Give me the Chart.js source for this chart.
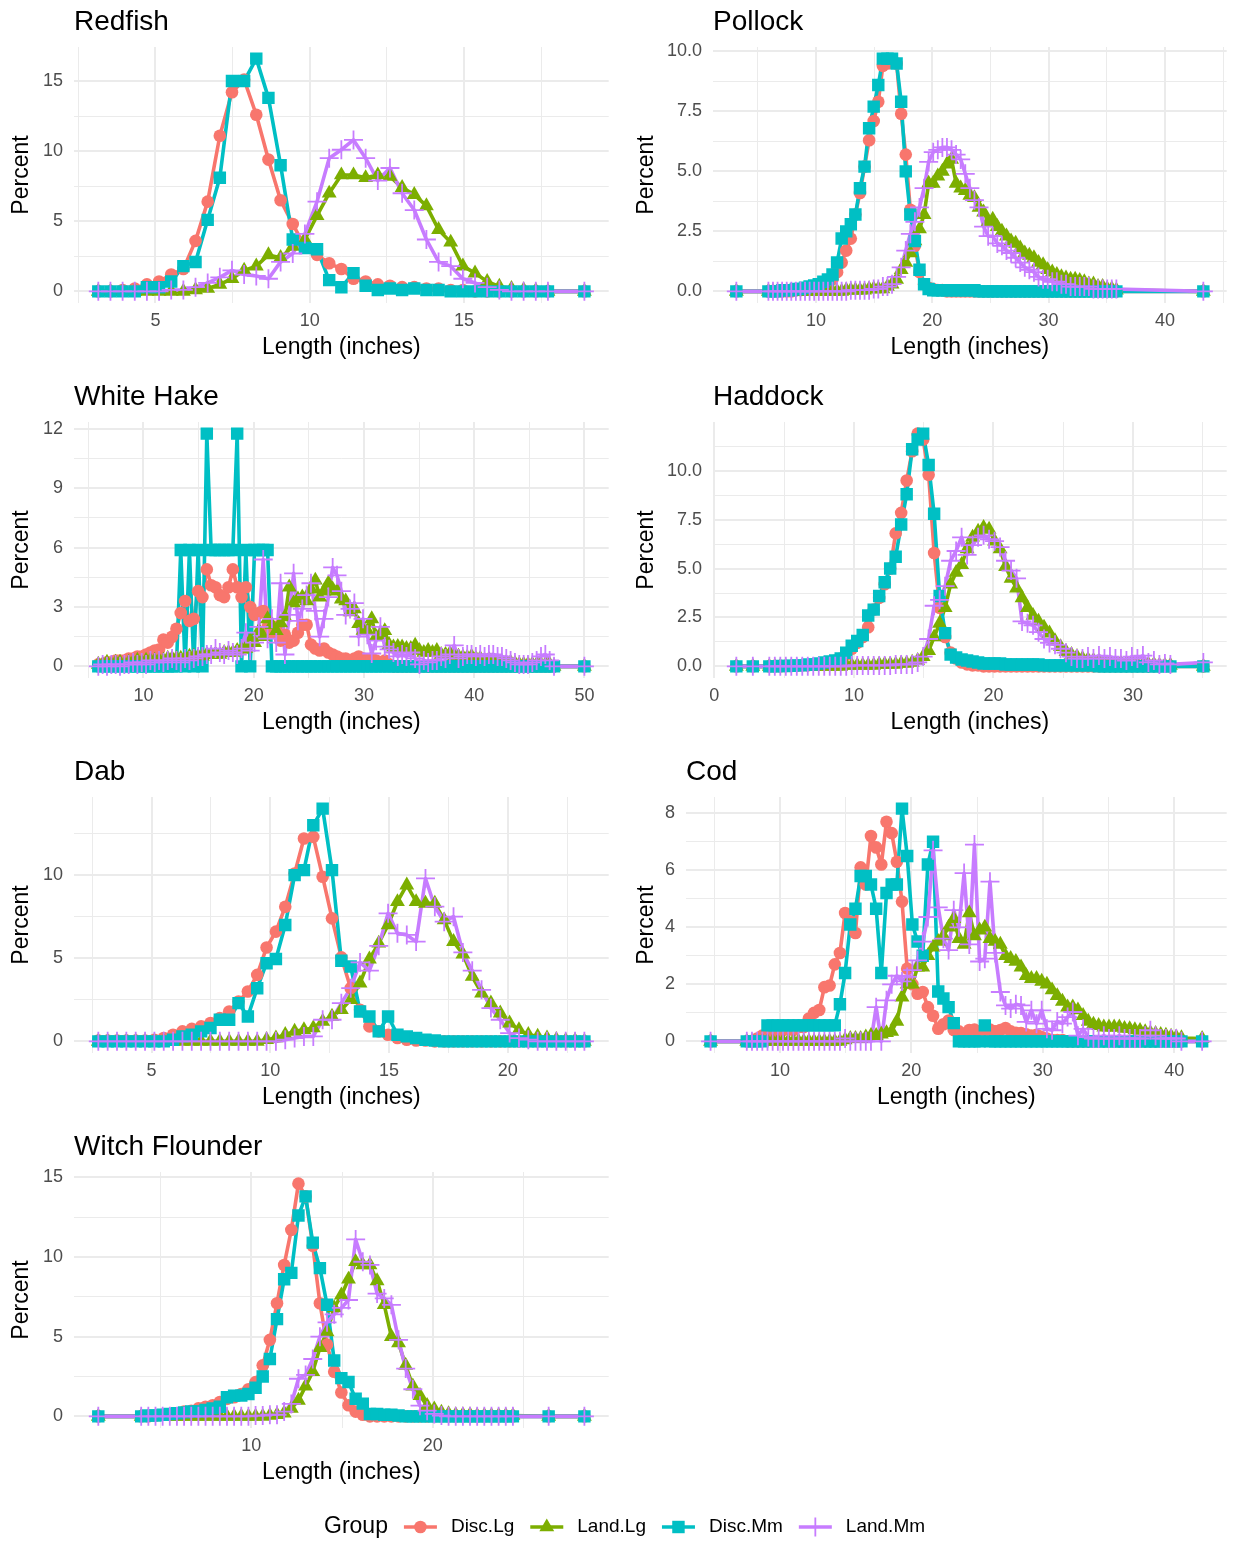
<!DOCTYPE html>
<html>
<head>
<meta charset="utf-8">
<title>Length frequency by group</title>
<script src="https://cdn.jsdelivr.net/npm/chart.js@4.4.1/dist/chart.umd.min.js"></script>
<style>
  body { margin: 0; background: #fff; width: 1238px; height: 1543px; position: relative; overflow: hidden; }
  canvas { position: absolute; }
</style>
</head>
<body>
<canvas id="redfish" width="620" height="365" style="left:0;top:0"></canvas>
<canvas id="pollock" width="613" height="365" style="left:625px;top:0"></canvas>
<canvas id="whitehake" width="620" height="365" style="left:0;top:375px"></canvas>
<canvas id="haddock" width="613" height="365" style="left:625px;top:375px"></canvas>
<canvas id="dab" width="620" height="365" style="left:0;top:750px"></canvas>
<canvas id="cod" width="613" height="365" style="left:625px;top:750px"></canvas>
<canvas id="witch" width="620" height="365" style="left:0;top:1125px"></canvas>
<canvas id="legend" width="1238" height="60" style="left:0;top:1497px"></canvas>
<script>
// length classes are whole centimetres, plotted in inches
function cmRun(from, to) {
	var out = [];
	for (var i = from; i <= to; i++) out.push(i);
	return out;
}

var groupNames = ['Disc.Lg', 'Land.Lg', 'Disc.Mm', 'Land.Mm'];
var groupColors = ['#F8766D', '#7CAE00', '#00BFC4', '#C77CFF'];
var groupShapes = ['circle', 'triangle', 'rect', 'cross'];
var groupSizes = [6.3, 8.6, 8.8, 9.5];

// Redfish
var redfishCm = cmRun(8, 45).concat([48]);
var redfishDiscLg = [0, 0, 0.1, 0.2, 0.5, 0.7, 1.2, 1.6, 3.6, 6.4,
	11.1, 14.2, 15.1, 12.6, 9.4, 6.5, 4.8, 3.2, 2.6, 2.0,
	1.6, 0.9, 0.7, 0.5, 0.4, 0.3, 0.3, 0.2, 0.2, 0.1,
	0.1, 0, 0, 0, 0, 0, 0, 0,
	0];
var redfishLandLg = [0, 0, 0, 0, 0, 0, 0, 0, 0.1, 0.2,
	0.5, 0.9, 1.5, 1.8, 2.6, 2.4, 3.2, 3.7, 5.4, 7.0,
	8.3, 8.3, 8.1, 8.3, 8.2, 7.4, 6.9, 6.1, 4.4, 3.5,
	1.8, 1.3, 0.7, 0.35, 0.2, 0.1, 0.05, 0,
	0];
var redfishDiscMm = [0, 0, 0, 0, 0.3, 0.3, 0.7, 1.8, 2.1, 5.1,
	8.1, 15.0, 15.0, 16.6, 13.8, 9.0, 3.7, 3.1, 3.0, 0.8,
	0.3, 1.3, 0.4, 0.1, 0.2, 0.1, 0.2, 0.1, 0.1, 0,
	0, 0, 0, 0, 0, 0, 0, 0,
	0];
var redfishLandMm = [0, 0, 0, 0, 0, 0, 0.1, 0.1, 0.3, 0.6,
	1.0, 1.5, 1.2, 1.1, 0.9, 2.1, 2.7, 4.1, 6.4, 9.5,
	10.1, 10.8, 9.5, 7.9, 8.8, 7.0, 5.8, 3.7, 2.1, 1.8,
	0.9, 0.6, 0.3, 0.1, 0, 0, 0, 0,
	0];

// Pollock
var pollockCm = [8].concat(cmRun(15, 91), [110]);
var pollockDiscLg = [0,
	0, 0, 0, 0, 0, 0, 0.05, 0.05, 0.1, 0.15,
	0.2, 0.25, 0.3, 0.3, 0.5, 0.8, 1.2, 1.7, 2.2, 3.2,
	4.1, 5.2, 6.3, 7.1, 7.9, 9.4, 9.5, 9.6, 9.5, 7.4,
	5.7, 3.4, 1.9, 0.8, 0.3, 0.15, 0.1, 0.05, 0.05, 0,
	0, 0, 0, 0, 0, 0, 0, 0, 0, 0,
	0, 0, 0, 0, 0, 0, 0, 0, 0, 0,
	0, 0, 0, 0, 0, 0, 0, 0, 0, 0,
	0, 0, 0, 0, 0, 0, 0,
	0];
var pollockLandLg = [0,
	0, 0, 0, 0, 0, 0, 0, 0, 0, 0,
	0, 0, 0, 0, 0, 0, 0, 0.05, 0.05, 0.05,
	0.05, 0.05, 0.1, 0.1, 0.1, 0.1, 0.2, 0.3, 0.5, 0.9,
	1.2, 1.6, 2.1, 2.6, 3.2, 4.5, 4.5, 4.8, 5.0, 5.3,
	5.5, 4.5, 4.3, 4.2, 4.0, 3.9, 3.5, 3.3, 2.9, 3.0,
	2.7, 2.5, 2.3, 2.1, 2.0, 1.8, 1.6, 1.5, 1.4, 1.2,
	1.1, 0.9, 0.8, 0.7, 0.6, 0.55, 0.5, 0.5, 0.45, 0.4,
	0.3, 0.3, 0.2, 0.2, 0.1, 0.1, 0.05,
	0];
var pollockDiscMm = [0,
	0, 0, 0, 0.05, 0.05, 0.05, 0.1, 0.1, 0.15, 0.2,
	0.25, 0.3, 0.4, 0.5, 0.7, 1.2, 2.2, 2.5, 2.8, 3.2,
	4.3, 5.2, 6.8, 7.7, 8.6, 9.7, 9.7, 9.7, 9.5, 7.9,
	5.0, 3.2, 2.1, 0.9, 0.3, 0.1, 0.05, 0.05, 0.05, 0.05,
	0.05, 0.05, 0.05, 0.05, 0.05, 0.05, 0, 0, 0, 0,
	0, 0, 0, 0, 0, 0, 0, 0, 0, 0,
	0, 0, 0, 0, 0, 0, 0, 0, 0, 0,
	0, 0, 0, 0, 0, 0, 0,
	0];
var pollockLandMm = [0,
	0, 0, 0, 0, 0, 0, 0, 0, 0, 0,
	0, 0, 0, 0, 0, 0, 0, 0, 0.05, 0.05,
	0.05, 0.05, 0.05, 0.1, 0.1, 0.2, 0.2, 0.3, 0.6, 1.0,
	1.7, 2.4, 2.9, 3.5, 4.3, 5.4, 5.8, 5.9, 6.0, 6.0,
	5.9, 5.7, 5.5, 4.9, 4.3, 3.8, 3.5, 2.7, 2.3, 2.3,
	2.0, 1.9, 1.7, 1.6, 1.4, 1.2, 1.0, 0.9, 0.8, 0.6,
	0.5, 0.5, 0.4, 0.4, 0.3, 0.3, 0.2, 0.2, 0.2, 0.2,
	0.2, 0.1, 0.1, 0.1, 0.1, 0.1, 0.1,
	0];

// White Hake
var whiteHakeCm = cmRun(15, 120).concat([127]);
var whiteHakeDiscLg = [0.1, 0.1, 0.2, 0.2, 0.3, 0.3, 0.3, 0.4, 0.4, 0.5,
	0.5, 0.6, 0.7, 0.8, 0.85, 1.35, 1.2, 1.5, 1.9, 2.7,
	3.3, 2.3, 2.4, 3.8, 3.5, 4.9, 4.1, 4.0, 3.6, 3.5,
	4.0, 4.9, 4.0, 3.5, 4.0, 3.0, 2.6, 2.7, 2.8, 2.0,
	1.7, 2.0, 1.3, 1.6, 1.2, 1.3, 1.7, 2.1, 2.1, 1.1,
	0.9, 0.8, 0.9, 0.7, 0.6, 0.5, 0.4, 0.4, 0.3, 0.4,
	0.5, 0.4, 0.3, 0.4, 0.3, 0.2, 0.3, 0.1, 0, 0,
	0, 0, 0, 0, 0, 0, 0, 0, 0, 0,
	0, 0, 0, 0, 0, 0, 0, 0, 0, 0,
	0, 0, 0, 0, 0, 0, 0, 0, 0, 0,
	0, 0, 0, 0, 0, 0,
	0];
var whiteHakeLandLg = [0.1, 0.1, 0.2, 0.1, 0.2, 0.2, 0.1, 0.2, 0.2, 0.3,
	0.2, 0.3, 0.3, 0.3, 0.3, 0.3, 0.4, 0.4, 0.4, 0.4,
	0.4, 0.5, 0.5, 0.5, 0.5, 0.6, 0.6, 0.6, 0.6, 0.7,
	0.7, 0.7, 0.8, 0.85, 0.9, 1.3, 1.2, 1.8, 1.5, 2.4,
	2.1, 1.8, 2.2, 2.5, 4.0, 3.2, 3.4, 3.5, 3.3, 3.9,
	4.35, 3.5, 3.8, 4.2, 3.9, 3.8, 3.4, 3.3, 2.75, 2.9,
	2.16, 1.82, 1.8, 2.4, 1.5, 1.6, 1.8, 1.1, 0.97, 1.0,
	0.97, 0.9, 0.9, 1.06, 0.8, 0.7, 0.8, 0.7, 0.8, 0.6,
	0.6, 0.64, 0.5, 0.5, 0.47, 0.45, 0.5, 0.4, 0.4, 0.3,
	0.35, 0.3, 0.25, 0.2, 0.2, 0.2, 0.15, 0.1, 0.1, 0.1,
	0.1, 0.1, 0.1, 0.1, 0.1, 0,
	0];
var whiteHakeDiscMm = [0, 0, 0, 0, 0, 0, 0, 0, 0, 0,
	0, 0, 0, 0, 0, 0, 0, 0, 0, 5.88,
	0, 5.88, 0, 5.88, 0, 11.76, 5.88, 5.88, 5.88, 5.88,
	5.88, 5.88, 11.76, 0, 5.88, 0, 5.88, 5.88, 5.88, 5.88,
	0, 0, 0, 0, 0, 0, 0, 0, 0, 0,
	0, 0, 0, 0, 0, 0, 0, 0, 0, 0,
	0, 0, 0, 0, 0, 0, 0, 0, 0, 0,
	0, 0, 0, 0, 0, 0, 0, 0, 0, 0,
	0, 0, 0, 0, 0, 0, 0, 0, 0, 0,
	0, 0, 0, 0, 0, 0, 0, 0, 0, 0,
	0, 0, 0, 0, 0, 0,
	0];
var whiteHakeLandMm = [0, 0.1, 0, 0.1, 0.1, 0, 0.1, 0.1, 0.2, 0.1,
	0.2, 0.1, 0.3, 0.2, 0.3, 0.2, 0.3, 0.4, 0.3, 0.2,
	0.4, 0.3, 0.4, 0.5, 0.5, 0.6, 0.6, 0.9, 0.7, 0.6,
	0.8, 0.7, 0.6, 0.9, 1.7, 0.8, 1.2, 2.0, 5.4, 1.4,
	2.4, 1.2, 4.2, 0.6, 2.6, 4.7, 2.3, 2.9, 3.6, 4.2,
	2.8, 1.5, 2.4, 3.5, 5.0, 4.6, 3.8, 2.6, 2.9, 3.2,
	1.5, 2.4, 1.6, 0.65, 1.3, 2.0, 1.0, 0.86, 0.7, 0.5,
	0.6, 0.5, 0.7, 0.4, 0.1, 0.3, 0.2, 0.3, 0.3, 0.5,
	0.4, 0.6, 1.06, 0.4, 0.5, 0.6, 0.6, 0.5, 0.6, 0.5,
	0.6, 0.6, 0.5, 0.5, 0.4, 0.3, 0.2, 0.1, 0.1, 0.1,
	0.2, 0.3, 0.5, 0.6, 0.3, 0,
	0];

// Haddock
var haddockCm = [4, 7].concat(cmRun(10, 83), [89]);
var haddockDiscLg = [0, 0,
	0, 0, 0, 0.02, 0.02, 0.03, 0.05, 0.05, 0.1, 0.1,
	0.15, 0.2, 0.3, 0.4, 0.6, 0.9, 1.2, 1.5, 2.0, 2.9,
	3.5, 4.2, 5.0, 6.8, 7.85, 9.5, 11.0, 11.9, 11.6, 9.8,
	5.8, 3.0, 1.5, 0.7, 0.4, 0.2, 0.1, 0.05, 0.05, 0,
	0, 0, 0, 0, 0, 0, 0, 0, 0, 0,
	0, 0, 0, 0, 0, 0, 0, 0, 0, 0,
	0, 0, 0, 0, 0, 0, 0, 0, 0, 0,
	0, 0, 0, 0,
	0];
var haddockLandLg = [0, 0,
	0, 0, 0, 0, 0, 0, 0, 0, 0, 0,
	0, 0, 0, 0, 0.05, 0.05, 0.05, 0.05, 0.05, 0.05,
	0.1, 0.1, 0.1, 0.1, 0.15, 0.15, 0.2, 0.3, 0.5, 0.8,
	1.5, 2.2, 3.0, 4.2, 4.8, 5.2, 6.0, 6.6, 6.9, 7.1,
	7.0, 6.4, 6.0, 5.1, 4.5, 4.0, 3.5, 3.0, 2.6, 2.3,
	2.0, 1.7, 1.3, 1.0, 0.75, 0.6, 0.5, 0.4, 0.35, 0.3,
	0.25, 0.2, 0.2, 0.15, 0.15, 0.15, 0.15, 0.1, 0.1, 0.1,
	0.1, 0.05, 0.05, 0.05,
	0];
var haddockDiscMm = [0, 0,
	0, 0, 0.02, 0.02, 0.03, 0.05, 0.05, 0.1, 0.1, 0.15,
	0.2, 0.25, 0.3, 0.4, 0.7, 1.05, 1.3, 1.6, 2.6, 2.9,
	3.6, 4.3, 5.0, 5.6, 7.25, 8.8, 11.1, 11.6, 11.9, 10.3,
	7.8, 3.6, 1.7, 0.6, 0.45, 0.35, 0.3, 0.25, 0.2, 0.15,
	0.15, 0.15, 0.15, 0.1, 0.1, 0.1, 0.1, 0.1, 0.1, 0.1,
	0.05, 0.05, 0.05, 0.05, 0.05, 0.05, 0.05, 0.05, 0.05, 0.05,
	0, 0, 0, 0, 0, 0, 0, 0, 0, 0,
	0, 0, 0, 0,
	0];
var haddockLandMm = [0, 0,
	0, 0, 0, 0, 0, 0, 0, 0, 0, 0,
	0, 0, 0, 0, 0, 0.05, 0.05, 0.05, 0.05, 0.05,
	0.05, 0.05, 0.05, 0.1, 0.1, 0.1, 0.1, 0.2, 0.5, 1.4,
	3.1, 3.4, 4.1, 5.4, 5.9, 6.6, 5.7, 6.2, 6.6, 6.7,
	6.5, 6.4, 6.1, 5.4, 4.9, 4.5, 2.3, 2.2, 2.1, 1.75,
	1.4, 1.2, 1.1, 0.9, 0.7, 0.5, 0.4, 0.4, 0.5, 0.4,
	0.55, 0.4, 0.5, 0.4, 0.4, 0.3, 0.5, 0.4, 0.55, 0.2,
	0.3, 0.1, 0.15, 0.1,
	0.2];

// Dab
var dabCm = cmRun(7, 59);
var dabDiscLg = [0.05, 0.05, 0.05, 0.05, 0.05, 0.05, 0.1, 0.2, 0.4, 0.6,
	0.75, 0.9, 1.1, 1.4, 1.8, 2.4, 3.0, 4.0, 5.65, 6.6,
	8.1, 10.1, 12.2, 12.3, 9.9, 7.4, 5.05, 3.2, 1.9, 0.9,
	0.6, 0.4, 0.2, 0.1, 0.05, 0.05, 0, 0, 0, 0,
	0, 0, 0, 0, 0, 0, 0, 0, 0, 0,
	0, 0, 0];
var dabLandLg = [0, 0, 0, 0, 0, 0, 0, 0, 0, 0,
	0, 0, 0, 0, 0, 0, 0, 0, 0.1, 0.2,
	0.4, 0.6, 0.7, 0.8, 1.2, 1.5, 1.9, 2.5, 3.5, 4.95,
	5.9, 7.0, 8.4, 9.4, 8.4, 8.3, 8.3, 7.3, 6.0, 5.25,
	3.9, 2.9, 2.3, 1.7, 1.1, 0.7, 0.4, 0.3, 0.2, 0.1,
	0.05, 0.05, 0];
var dabDiscMm = [0, 0, 0, 0, 0, 0, 0, 0, 0.1, 0.3,
	0.4, 0.6, 0.8, 1.3, 1.3, 2.3, 1.5, 3.2, 4.7, 4.95,
	7.0, 10.0, 10.3, 13.0, 14.0, 10.3, 4.85, 4.5, 1.8, 1.5,
	0.6, 1.5, 0.4, 0.3, 0.2, 0.1, 0.05, 0, 0, 0,
	0, 0, 0, 0, 0, 0, 0, 0, 0, 0,
	0, 0, 0];
var dabLandMm = [0, 0, 0, 0, 0, 0, 0, 0, 0, 0,
	0, 0, 0, 0, 0, 0, 0, 0, 0, 0,
	0.1, 0.2, 0.3, 0.3, 1.3, 1.3, 2.3, 3.2, 4.75, 4.25,
	5.75, 7.7, 6.5, 6.4, 6.0, 9.8, 8.1, 7.2, 7.5, 5.35,
	4.25, 3.1, 2.0, 1.3, 0.5, 0.2, 0.1, 0, 0, 0,
	0, 0, 0];

// Cod
var codCm = [12].concat(cmRun(19, 103), [107]);
var codDiscLg = [0,
	0, 0, 0.1, 0.2, 0.3, 0.35, 0.3, 0.4, 0.45, 0.4,
	0.5, 0.5, 0.8, 1.0, 1.1, 1.9, 1.96, 2.7, 3.1, 4.5,
	4.2, 3.8, 6.1, 5.5, 7.2, 6.8, 6.2, 7.7, 7.3, 6.3,
	4.9, 2.55, 2.0, 1.67, 1.73, 1.2, 0.9, 0.44, 0.6, 0.73,
	0.4, 0.35, 0.26, 0.4, 0.41, 0.35, 0.3, 0.41, 0.35, 0.4,
	0.47, 0.35, 0.3, 0.29, 0.25, 0.2, 0.23, 0.15, 0.1, 0.05,
	0.05, 0.05, 0, 0, 0, 0, 0, 0, 0, 0,
	0, 0, 0, 0, 0, 0, 0, 0, 0, 0,
	0, 0, 0, 0, 0,
	0];
var codLandLg = [0,
	0, 0, 0, 0, 0, 0, 0, 0, 0, 0,
	0, 0, 0, 0, 0, 0, 0, 0, 0, 0.05,
	0.1, 0.1, 0.1, 0.15, 0.2, 0.2, 0.25, 0.3, 0.35, 0.7,
	1.55, 2.0, 2.0, 2.6, 2.6, 3.0, 3.3, 3.5, 3.7, 4.0,
	4.3, 3.6, 3.4, 4.5, 3.7, 3.9, 4.0, 3.6, 3.5, 3.4,
	3.0, 2.9, 2.8, 2.6, 2.3, 2.2, 2.2, 2.1, 2.0, 1.8,
	1.6, 1.4, 1.2, 1.2, 1.1, 0.9, 0.7, 0.6, 0.55, 0.5,
	0.5, 0.5, 0.5, 0.45, 0.44, 0.4, 0.38, 0.33, 0.3, 0.27,
	0.24, 0.21, 0.18, 0.15, 0.12,
	0.1];
var codDiscMm = [0,
	0, 0, 0, 0, 0.56, 0.56, 0.56, 0.56, 0.56, 0.56,
	0.56, 0.56, 0.56, 0.56, 0.56, 0.56, 0.56, 0.56, 1.3, 2.4,
	4.1, 4.65, 5.8, 5.8, 5.5, 4.65, 2.4, 5.2, 5.5, 5.5,
	8.16, 6.5, 4.1, 3.5, 3.0, 6.2, 7.0, 1.75, 1.5, 1.2,
	0.64, 0, 0, 0, 0, 0, 0.56, 0, 0, 0,
	0, 0, 0, 0, 0, 0, 0, 0, 0, 0,
	0, 0, 0, 0, 0, 0, 0, 0, 0, 0,
	0, 0, 0, 0, 0, 0, 0, 0, 0, 0,
	0, 0, 0, 0, 0,
	0];
var codLandMm = [0,
	0, 0, 0, 0, 0, 0, 0, 0, 0, 0,
	0, 0, 0, 0, 0, 0, 0, 0, 0, 0.1,
	0, 0, 0, 0, 0, 1.2, 0, 1.44, 2.0, 2.3,
	2.1, 2.26, 2.5, 2.84, 3.5, 4.36, 6.7, 4.7, 3.6, 3.2,
	4.6, 4.0, 5.9, 3.4, 6.9, 2.8, 2.9, 5.6, 3.1, 1.73,
	1.26, 1.15, 1.3, 1.26, 0.68, 1.09, 0.62, 1.09, 0.44, 0.39,
	0.7, 0.62, 0.85, 1.03, 0.2, 0.44, 0.15, 0.1, 0.1, 0.2,
	0.1, 0.1, 0.2, 0.1, 0.1, 0.1, 0.1, 0.2, 0.39, 0.2,
	0.1, 0.1, 0.1, 0.1, 0,
	0];

// Witch Flounder
var witchCm = [4].concat(cmRun(10, 62), [67, 72]);
var witchDiscLg = [0,
	0, 0, 0.05, 0.1, 0.15, 0.2, 0.3, 0.35, 0.5, 0.6,
	0.7, 0.9, 1.1, 1.2, 1.4, 1.7, 2.15, 3.2, 4.8, 7.1,
	9.5, 11.7, 14.6, 13.8, 10.7, 7.1, 4.5, 2.8, 1.5, 0.7,
	0.3, 0.1, 0, 0, 0, 0, 0, 0, 0, 0,
	0, 0, 0, 0, 0, 0, 0, 0, 0, 0,
	0, 0, 0,
	0, 0];
var witchLandLg = [0,
	0, 0, 0, 0, 0, 0, 0, 0, 0, 0,
	0, 0, 0, 0, 0, 0, 0, 0, 0.05, 0.1,
	0.2, 0.5, 1.0, 1.9, 2.8, 4.3, 5.3, 6.8, 7.6, 8.6,
	9.7, 9.5, 9.5, 8.5, 7.0, 5.0, 4.6, 3.2, 1.9, 1.3,
	0.67, 0.46, 0.25, 0.15, 0.1, 0.1, 0.1, 0.05, 0.05, 0.05,
	0.05, 0.05, 0.05,
	0, 0];
var witchDiscMm = [0,
	0, 0.05, 0.05, 0.1, 0.15, 0.2, 0.25, 0.3, 0.3, 0.4,
	0.5, 0.6, 1.2, 1.3, 1.3, 1.4, 1.8, 2.5, 3.6, 6.1,
	8.6, 9.0, 12.6, 13.8, 10.9, 9.3, 7.0, 3.5, 2.4, 2.15,
	1.1, 0.8, 0.15, 0.15, 0.1, 0.1, 0.05, 0, 0, 0,
	0, 0, 0, 0, 0, 0, 0, 0, 0, 0,
	0, 0, 0,
	0, 0];
var witchLandMm = [0,
	0, 0, 0, 0, 0, 0, 0, 0, 0, 0,
	0, 0, 0, 0, 0, 0, 0.05, 0.05, 0.1, 0.1,
	0.3, 0.78, 2.36, 2.6, 3.6, 5.0, 5.9, 6.4, 6.8, 7.3,
	11.1, 9.7, 9.5, 7.7, 7.4, 7.0, 4.8, 3.0, 1.7, 0.67,
	0.36, 0.15, 0.05, 0, 0, 0, 0, 0, 0, 0,
	0, 0, 0,
	0, 0];

// axis breaks
var redfishXTicks = [5, 10, 15];
var redfishYTicks = [0, 5, 10, 15];
var pollockXTicks = [10, 20, 30, 40];
var pollockYTicks = [0, 2.5, 5, 7.5, 10];
var whiteHakeXTicks = [10, 20, 30, 40, 50];
var whiteHakeYTicks = [0, 3, 6, 9, 12];
var haddockXTicks = [0, 10, 20, 30];
var haddockYTicks = [0, 2.5, 5, 7.5, 10];
var dabXTicks = [5, 10, 15, 20];
var dabYTicks = [0, 5, 10];
var codXTicks = [10, 20, 30, 40];
var codYTicks = [0, 2, 4, 6, 8];
var witchXTicks = [10, 20];
var witchYTicks = [0, 5, 10, 15];

var panels = [
	{canvas: 'redfish', title: 'Redfish', cm: redfishCm, values: [redfishDiscLg, redfishLandLg, redfishDiscMm, redfishLandMm], xTicks: redfishXTicks, yTicks: redfishYTicks, digits: 0, col: 0},
	{canvas: 'pollock', title: 'Pollock', cm: pollockCm, values: [pollockDiscLg, pollockLandLg, pollockDiscMm, pollockLandMm], xTicks: pollockXTicks, yTicks: pollockYTicks, digits: 1, col: 1, yWidth: 83},
	{canvas: 'whitehake', title: 'White Hake', cm: whiteHakeCm, values: [whiteHakeDiscLg, whiteHakeLandLg, whiteHakeDiscMm, whiteHakeLandMm], xTicks: whiteHakeXTicks, yTicks: whiteHakeYTicks, digits: 0, col: 0},
	{canvas: 'haddock', title: 'Haddock', cm: haddockCm, values: [haddockDiscLg, haddockLandLg, haddockDiscMm, haddockLandMm], xTicks: haddockXTicks, yTicks: haddockYTicks, digits: 1, col: 1, yWidth: 83},
	{canvas: 'dab', title: 'Dab', cm: dabCm, values: [dabDiscLg, dabLandLg, dabDiscMm, dabLandMm], xTicks: dabXTicks, yTicks: dabYTicks, digits: 0, col: 0},
	{canvas: 'cod', title: 'Cod', cm: codCm, values: [codDiscLg, codLandLg, codDiscMm, codLandMm], xTicks: codXTicks, yTicks: codYTicks, digits: 0, col: 1, yWidth: 56},
	{canvas: 'witch', title: 'Witch Flounder', cm: witchCm, values: [witchDiscLg, witchLandLg, witchDiscMm, witchLandMm], xTicks: witchXTicks, yTicks: witchYTicks, digits: 0, col: 0}
];

var FONT = '"Liberation Sans", Arial, Helvetica, sans-serif';
Chart.defaults.font.family = FONT;
var GRID = '#EBEBEB';
var LINE_W = 3.6;

// major breaks plus the half-way minor lines, kept inside the limits
function gridBreaks(breaks, lo, hi) {
	var step = breaks[1] - breaks[0];
	var ext = [breaks[0] - step].concat(breaks, [breaks[breaks.length - 1] + step]);
	var out = [];
	for (var i = 0; i < ext.length; i++) {
		out.push(ext[i]);
		if (i < ext.length - 1) out.push(ext[i] + step / 2);
	}
	return out.filter(function(v){ return v >= lo - 1e-9 && v <= hi + 1e-9; });
}

function isBreak(list, v) {
	for (var i = 0; i < list.length; i++) {
		if (Math.abs(list[i] - v) < 1e-6) return true;
	}
	return false;
}

var panelTitle = {
	id: 'panelTitle',
	afterDraw: function(chart, args, opts) {
		var ctx = chart.ctx;
		ctx.save();
		ctx.font = '28px ' + FONT;
		ctx.fillStyle = '#000';
		ctx.textBaseline = 'alphabetic';
		ctx.textAlign = 'left';
		ctx.fillText(opts.text, chart.chartArea.left, 30);
		ctx.restore();
	}
};

function buildPanel(p) {
	var xs = p.cm.map(function(c){ return c / 2.54; });
	var xMin = xs[0], xMax = xs[xs.length - 1];
	var xPad = (xMax - xMin) * 0.05;
	var yMax = 0;
	p.values.forEach(function(arr){
		if (arr.length !== xs.length) console.warn(p.title, 'length mismatch', arr.length, xs.length);
		arr.forEach(function(v){ if (v > yMax) yMax = v; });
	});
	var yLo = -yMax * 0.05, yHi = yMax * 1.05;
	var xLo = xMin - xPad, xHi = xMax + xPad;
	var xGrid = gridBreaks(p.xTicks, xLo, xHi);
	var yGrid = gridBreaks(p.yTicks, yLo, yHi);

	// all lines first, then the points on top (Land.Mm uppermost)
	var datasets = [];
	for (var g = 0; g < 4; g++) {
		var pts = xs.map(function(x, i){ return {x: x, y: p.values[g][i]}; });
		datasets.push({
			label: groupNames[g],
			data: pts,
			showLine: true,
			borderColor: groupColors[g],
			borderWidth: LINE_W,
			borderJoinStyle: 'round',
			pointRadius: 0,
			pointHoverRadius: 0,
			order: 7 - g
		});
		datasets.push({
			label: groupNames[g],
			data: pts,
			showLine: false,
			pointStyle: groupShapes[g],
			pointRadius: groupSizes[g],
			pointHoverRadius: groupSizes[g],
			pointBackgroundColor: groupColors[g],
			pointBorderColor: groupColors[g],
			pointBorderWidth: groupShapes[g] === 'cross' ? 1.8 : 0,
			order: 3 - g
		});
	}

	var yWidth = p.yWidth || 69;

	new Chart(document.getElementById(p.canvas), {
		type: 'scatter',
		data: {datasets: datasets},
		plugins: [panelTitle],
		options: {
			responsive: false,
			animation: false,
			events: [],
			layout: {padding: {top: 47, bottom: 4, left: 5, right: p.col === 0 ? 6 : 1}},
			plugins: {
				legend: {display: false},
				tooltip: {enabled: false},
				panelTitle: {text: p.title}
			},
			scales: {
				x: {
					type: 'linear',
					min: xLo,
					max: xHi,
					afterBuildTicks: function(s){ s.ticks = xGrid.map(function(v){ return {value: v}; }); },
					afterFit: function(s){ s.height = 58; },
					ticks: {
						autoSkip: false,
						maxRotation: 0,
						padding: 7,
						color: '#4D4D4D',
						font: {size: 18},
						callback: function(v){ return isBreak(p.xTicks, v) ? String(Math.round(v)) : ''; }
					},
					grid: {
						color: GRID,
						drawTicks: false,
						lineWidth: function(c){ return c.tick && isBreak(p.xTicks, c.tick.value) ? 2 : 1; }
					},
					border: {display: false},
					title: {display: true, text: 'Length (inches)', color: '#000', font: {size: 23}, padding: 0}
				},
				y: {
					type: 'linear',
					min: yLo,
					max: yHi,
					afterBuildTicks: function(s){ s.ticks = yGrid.map(function(v){ return {value: v}; }); },
					afterFit: function(s){ s.width = yWidth; },
					ticks: {
						autoSkip: false,
						padding: 11,
						color: '#4D4D4D',
						font: {size: 18},
						callback: function(v){ return isBreak(p.yTicks, v) ? v.toFixed(p.digits) : ''; }
					},
					grid: {
						color: GRID,
						drawTicks: false,
						lineWidth: function(c){ return c.tick && isBreak(p.yTicks, c.tick.value) ? 2 : 1; }
					},
					border: {display: false},
					title: {display: true, text: 'Percent', color: '#000', font: {size: 23}, padding: {top: 3, bottom: 0}}
				}
			}
		}
	});
}

panels.forEach(buildPanel);

// shared legend along the bottom
function drawKeyShape(ctx, shape, x, y, r, color) {
	ctx.fillStyle = color;
	ctx.strokeStyle = color;
	ctx.beginPath();
	if (shape === 'circle') {
		ctx.arc(x, y, r, 0, Math.PI * 2);
		ctx.fill();
	} else if (shape === 'triangle') {
		ctx.moveTo(x, y - r);
		ctx.lineTo(x + r * Math.sin(Math.PI * 2 / 3), y - r * Math.cos(Math.PI * 2 / 3));
		ctx.lineTo(x - r * Math.sin(Math.PI * 2 / 3), y - r * Math.cos(Math.PI * 2 / 3));
		ctx.closePath();
		ctx.fill();
	} else if (shape === 'rect') {
		var h = r * Math.SQRT1_2;
		ctx.rect(x - h, y - h, h * 2, h * 2);
		ctx.fill();
	} else {
		ctx.lineWidth = 1.8;
		ctx.moveTo(x - r, y); ctx.lineTo(x + r, y);
		ctx.moveTo(x, y - r); ctx.lineTo(x, y + r);
		ctx.stroke();
	}
}

function drawLegend() {
	var ctx = document.getElementById('legend').getContext('2d');
	var cy = 30;
	var x = 324;
	ctx.textBaseline = 'middle';
	ctx.fillStyle = '#000';
	ctx.font = '23px ' + FONT;
	ctx.fillText('Group', x, cy);
	x += ctx.measureText('Group').width + 16;
	for (var g = 0; g < groupNames.length; g++) {
		ctx.strokeStyle = groupColors[g];
		ctx.lineWidth = LINE_W;
		ctx.beginPath();
		ctx.moveTo(x, cy);
		ctx.lineTo(x + 33, cy);
		ctx.stroke();
		drawKeyShape(ctx, groupShapes[g], x + 16.5, cy, groupSizes[g], groupColors[g]);
		x += 33 + 14;
		ctx.fillStyle = '#000';
		ctx.font = '19px ' + FONT;
		ctx.fillText(groupNames[g], x, cy);
		x += ctx.measureText(groupNames[g]).width + 16;
	}
}

drawLegend();
</script>
</body>
</html>
